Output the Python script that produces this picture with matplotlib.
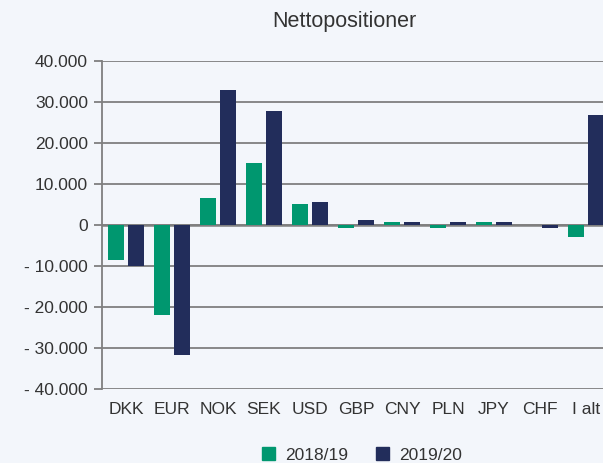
import numpy as np
import matplotlib.pyplot as plt
from matplotlib.patches import Patch
from matplotlib.ticker import FuncFormatter

plt.rcParams['font.family'] = ['Liberation Sans', 'DejaVu Sans']

categories = ['DKK', 'EUR', 'NOK', 'SEK', 'USD', 'GBP', 'CNY', 'PLN', 'JPY', 'CHF', 'I alt']
values_1819 = [-8500, -22000, 6700, 15000, 5100, -800, 700, -800, 700, 0, -3000]
values_1920 = [-10000, -31700, 33000, 27700, 5600, 1200, 700, 700, 700, -800, 26800]
series_labels = ['2018/19', '2019/20']

GREEN = '#00976f'
NAVY = '#222d5b'
BG = '#f3f6fb'
GRID = '#7f7f7f'
TXT = '#333333'


def fmt(v, pos):
    v = int(round(v))
    if v == 0:
        return '0'
    s = f'{abs(v):,}'.replace(',', '.')
    return ('- ' if v < 0 else '') + s


fig = plt.figure(figsize=(6.03, 4.63), dpi=100, facecolor=BG)
ax = fig.add_axes([102 / 603, 1 - 389 / 463, 507 / 603, 328 / 463], facecolor=BG)

x = np.arange(len(categories))
w = 0.35
off = 0.217
ax.bar(x - off, values_1819, w, color=GREEN, zorder=3)
ax.bar(x + off, values_1920, w, color=NAVY, zorder=3)

ax.set_xlim(-0.52, 10.5)
ax.set_ylim(-40000, 40000)
ax.set_yticks(np.arange(-40000, 40001, 10000))
ax.yaxis.set_major_formatter(FuncFormatter(fmt))
ax.set_xticks(x)
ax.set_xticklabels(categories)

ax.grid(axis='y', color=GRID, linewidth=1.3, zorder=1)
ax.axhline(0, color=GRID, linewidth=1.8, zorder=2)
for s in ['top', 'right', 'bottom']:
    ax.spines[s].set_visible(False)
ax.spines['left'].set_color(GRID)
ax.spines['left'].set_linewidth(1.3)
ax.tick_params(axis='y', length=6, width=1.3, color=GRID, labelsize=12.5, labelcolor=TXT, pad=4)
ax.tick_params(axis='x', length=0, labelsize=12.5, labelcolor=TXT, pad=9)

fig.text(344 / 603, 1 - 21 / 463, 'Nettopositioner', ha='center', va='center', fontsize=15.5, color=TXT)

handles = [Patch(color=GREEN), Patch(color=NAVY)]
fig.legend(handles, series_labels, loc='center', bbox_to_anchor=(362 / 603, 1 - 455 / 463), ncol=2,
           frameon=False, fontsize=12.5, handlelength=0.75, handleheight=0.75, columnspacing=1.6,
           handletextpad=0.6, labelcolor=TXT)

fig.savefig('out.png', dpi=100, facecolor=BG)
